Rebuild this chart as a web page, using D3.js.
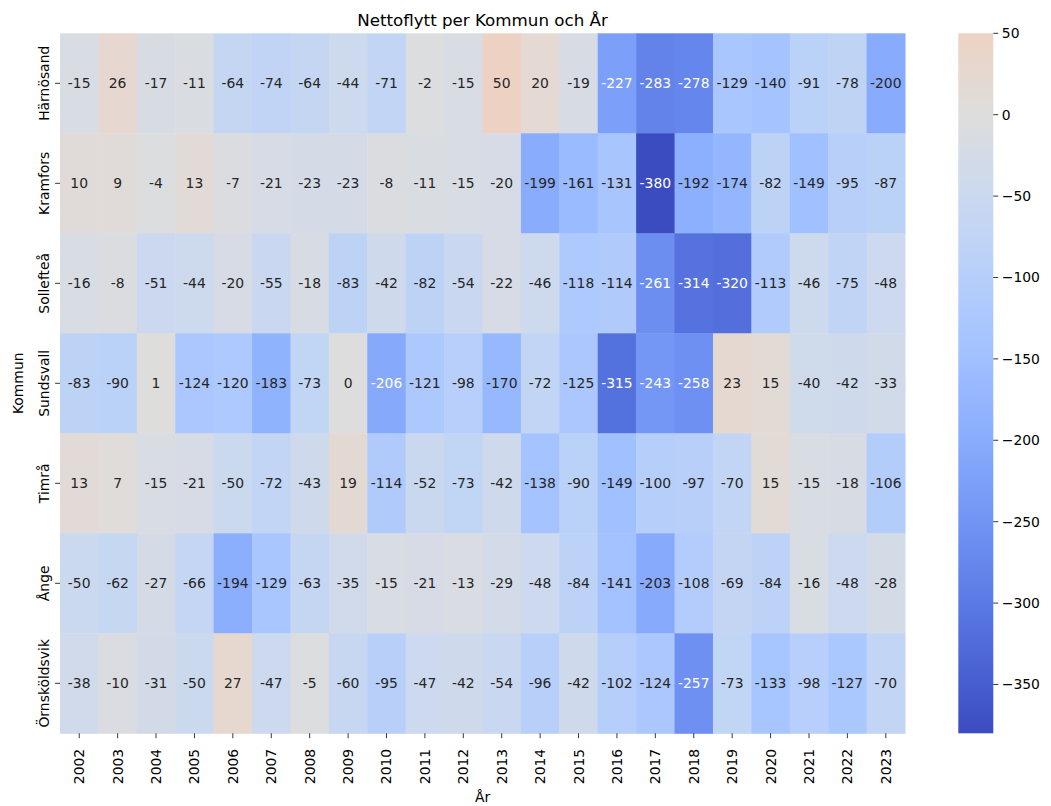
<!DOCTYPE html>
<html>
<head>
<meta charset="utf-8">
<script src="https://cdn.jsdelivr.net/npm/d3@7"></script>
<style>
  body { margin: 0; background: #fff; }
  svg { display: block; font-family: "DejaVu Sans", sans-serif; }
</style>
</head>
<body>
<svg id="chart" width="1051" height="806"></svg>
<script>
const years = ["2002","2003","2004","2005","2006","2007","2008","2009","2010","2011","2012","2013","2014","2015","2016","2017","2018","2019","2020","2021","2022","2023"];
const kommuner = ["Härnösand","Kramfors","Sollefteå","Sundsvall","Timrå","Ånge","Örnsköldsvik"];
const harnosand   = [-15, 26, -17, -11, -64, -74, -64, -44, -71, -2, -15, 50, 20, -19, -227, -283, -278, -129, -140, -91, -78, -200];
const kramfors    = [10, 9, -4, 13, -7, -21, -23, -23, -8, -11, -15, -20, -199, -161, -131, -380, -192, -174, -82, -149, -95, -87];
const solleftea   = [-16, -8, -51, -44, -20, -55, -18, -83, -42, -82, -54, -22, -46, -118, -114, -261, -314, -320, -113, -46, -75, -48];
const sundsvall   = [-83, -90, 1, -124, -120, -183, -73, 0, -206, -121, -98, -170, -72, -125, -315, -243, -258, 23, 15, -40, -42, -33];
const timra       = [13, 7, -15, -21, -50, -72, -43, 19, -114, -52, -73, -42, -138, -90, -149, -100, -97, -70, 15, -15, -18, -106];
const ange        = [-50, -62, -27, -66, -194, -129, -63, -35, -15, -21, -13, -29, -48, -84, -141, -203, -108, -69, -84, -16, -48, -28];
const ornskoldsvik= [-38, -10, -31, -50, 27, -47, -5, -60, -95, -47, -42, -54, -96, -42, -102, -124, -257, -73, -133, -98, -127, -70];
const rows = [harnosand, kramfors, solleftea, sundsvall, timra, ange, ornskoldsvik];
const cbarTicks = [50, 0, -50, -100, -150, -200, -250, -300, -350];

// coolwarm (Moreland) stops
const cw = [[59,76,192],[68,90,204],[77,104,215],[87,117,225],[98,130,234],[108,142,241],[119,154,247],[130,165,251],[141,176,254],[152,185,255],[163,194,255],[174,201,253],[184,208,249],[194,213,244],[204,217,238],[213,219,230],[221,221,221],[229,216,209],[236,211,197],[241,204,184],[245,196,172],[247,187,160],[247,177,148],[247,166,137],[244,154,123],[241,141,111],[236,127,99],[229,112,88],[222,96,77],[213,80,66],[203,62,56],[192,40,47],[180,4,38]];
const coolwarm = d3.scaleLinear()
  .domain(cw.map((d, i) => i / (cw.length - 1)))
  .range(cw.map(c => d3.rgb(c[0], c[1], c[2])))
  .interpolate(d3.interpolateRgb);

const allVals = rows.flat();
const vmin = d3.min(allVals), vmax = d3.max(allVals), center = 0;
const vrange = Math.max(vmax - center, center - vmin);
const norm = d3.scaleLinear().domain([center - vrange, center + vrange]).range([0, 1]);
const color = v => coolwarm(norm(v));

function lum(c) {
  const col = d3.rgb(c);
  const f = x => { x /= 255; return x <= 0.03928 ? x / 12.92 : Math.pow((x + 0.055) / 1.055, 2.4); };
  return 0.2126 * f(col.r) + 0.7152 * f(col.g) + 0.0722 * f(col.b);
}

const svg = d3.select("#chart");
const X0 = 60, X1 = 905, Y0 = 33.3, Y1 = 733.3;
const x = d3.scaleBand().domain(years).range([X0, X1]).padding(0);
const y = d3.scaleBand().domain(kommuner).range([Y0, Y1]).padding(0);

const cells = [];
rows.forEach((r, i) => r.forEach((v, j) => cells.push({k: kommuner[i], yr: years[j], v})));

svg.append("g").selectAll("rect").data(cells).join("rect")
  .attr("x", d => x(d.yr)).attr("y", d => y(d.k))
  .attr("width", x.bandwidth() + 0.5).attr("height", y.bandwidth() + 0.5)
  .attr("fill", d => color(d.v));

svg.append("g").selectAll("text").data(cells).join("text")
  .attr("x", d => x(d.yr) + x.bandwidth() / 2)
  .attr("y", d => y(d.k) + y.bandwidth() / 2)
  .attr("text-anchor", "middle").attr("dy", "0.36em")
  .attr("font-size", "13.9px")
  .attr("fill", d => lum(color(d.v)) > 0.408 ? "#262626" : "#ffffff")
  .text(d => String(d.v));

// x axis
const xa = svg.append("g");
years.forEach(yr => {
  const cx = x(yr) + x.bandwidth() / 2;
  xa.append("line").attr("x1", cx).attr("x2", cx).attr("y1", Y1).attr("y2", Y1 + 4.9)
    .attr("stroke", "#000").attr("stroke-width", 0.8);
  xa.append("text").attr("transform", `translate(${cx},${Y1 + 15.5}) rotate(-90)`)
    .attr("text-anchor", "end").attr("dy", "0.36em").attr("font-size", "13.9px").attr("fill", "#000")
    .text(yr);
});
svg.append("text").attr("x", (X0 + X1) / 2).attr("y", 802).attr("text-anchor", "middle")
  .attr("font-size", "13.9px").text("År");

// y axis
const ya = svg.append("g");
kommuner.forEach(k => {
  const cy = y(k) + y.bandwidth() / 2;
  ya.append("line").attr("x1", X0 - 4.9).attr("x2", X0).attr("y1", cy).attr("y2", cy)
    .attr("stroke", "#000").attr("stroke-width", 0.8);
  ya.append("text").attr("transform", `translate(48.5,${cy}) rotate(-90)`)
    .attr("text-anchor", "middle").attr("font-size", "13.9px").attr("fill", "#000")
    .text(k);
});
svg.append("text").attr("transform", `translate(22.5,${(Y0 + Y1) / 2}) rotate(-90)`)
  .attr("text-anchor", "middle").attr("font-size", "13.9px").text("Kommun");

// title
svg.append("text").attr("x", (X0 + X1) / 2).attr("y", 26).attr("text-anchor", "middle")
  .attr("font-size", "16.7px").attr("fill", "#000").text("Nettoflytt per Kommun och År");

// colorbar
const CX0 = 958.3, CW = 35;
const cs = d3.scaleLinear().domain([vmin, vmax]).range([Y1, Y0]);
const defs = svg.append("defs");
const grad = defs.append("linearGradient").attr("id", "cbar").attr("x1", 0).attr("x2", 0).attr("y1", 1).attr("y2", 0);
d3.range(0, 41).forEach(i => {
  const t = i / 40;
  grad.append("stop").attr("offset", t).attr("stop-color", color(vmin + t * (vmax - vmin)));
});
svg.append("rect").attr("x", CX0).attr("y", Y0).attr("width", CW).attr("height", Y1 - Y0).attr("fill", "url(#cbar)");
const fmt = v => v < 0 ? "\u2212" + Math.abs(v) : String(v);
const ca = svg.append("g");
cbarTicks.forEach(t => {
  const ty = cs(t);
  ca.append("line").attr("x1", CX0 + CW).attr("x2", CX0 + CW + 4.9).attr("y1", ty).attr("y2", ty)
    .attr("stroke", "#000").attr("stroke-width", 0.8);
  ca.append("text").attr("x", CX0 + CW + 8.5).attr("y", ty).attr("dy", "0.36em")
    .attr("font-size", "13.9px").attr("fill", "#000").text(fmt(t));
});
</script>
</body>
</html>
